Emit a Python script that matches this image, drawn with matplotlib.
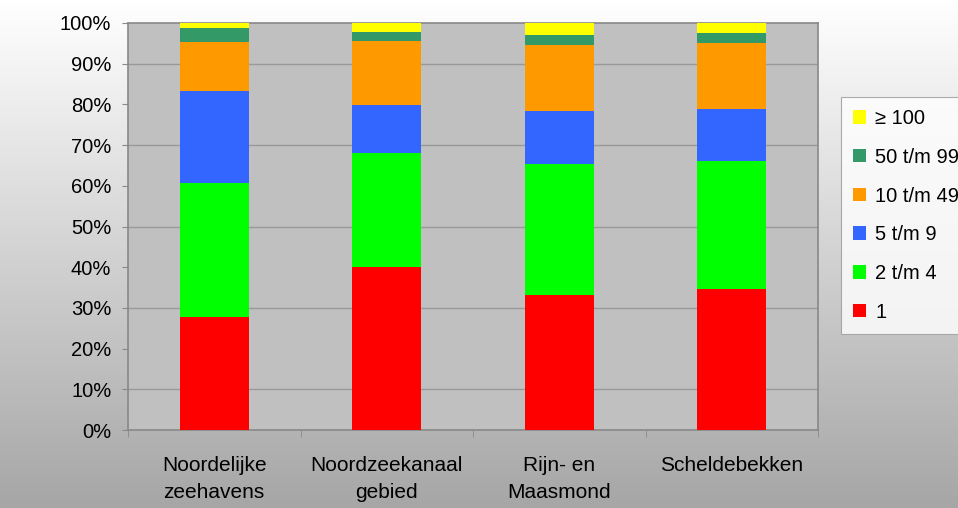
import numpy as np
import matplotlib
matplotlib.use("Agg")
import matplotlib.pyplot as plt
from matplotlib.colors import LinearSegmentedColormap

plt.rcParams['font.family'] = ['Liberation Sans', 'DejaVu Sans']

categories = ["Noordelijke\nzeehavens", "Noordzeekanaal\ngebied", "Rijn- en\nMaasmond", "Scheldebekken"]
series_names = ["1", "2 t/m 4", "5 t/m 9", "10 t/m 49", "50 t/m 99", "\u2265 100"]
s1 = [27.8, 40.0, 33.2, 34.6]
s2_4 = [32.9, 28.1, 32.2, 31.5]
s5_9 = [22.6, 11.8, 13.0, 12.8]
s10_49 = [12.0, 15.8, 16.3, 16.3]
s50_99 = [3.4, 2.1, 2.4, 2.3]
s100 = [1.3, 2.2, 2.9, 2.5]
series = [s1, s2_4, s5_9, s10_49, s50_99, s100]
colors = ["#ff0000", "#00ff00", "#3366ff", "#ff9900", "#339966", "#ffff00"]
yticks = [0, 10, 20, 30, 40, 50, 60, 70, 80, 90, 100]
ytick_labels = [f"{v}%" for v in yticks]

fig = plt.figure(figsize=(9.58, 5.08), dpi=100)

# gradient background
bg = fig.add_axes([0, 0, 1, 1], zorder=-10)
grad = np.linspace(1.0, 0.0, 256).reshape(-1, 1)
cmap = LinearSegmentedColormap.from_list("bg", ["#a6a6a6", "#ffffff"])
bg.imshow(grad, aspect='auto', cmap=cmap, extent=[0, 1, 0, 1], origin='upper', vmin=0, vmax=1)
bg.set_axis_off()

ax = fig.add_axes([128/958, 1-430/508, (818-128)/958, (430-23)/508])
ax.set_facecolor("#c0c0c0")
x = np.arange(len(categories))
bottom = np.zeros(len(categories))
handles = []
for vals, name, c in zip(series, series_names, colors):
    h = ax.bar(x, vals, width=0.4, bottom=bottom, color=c, label=name, zorder=3)
    handles.append(h)
    bottom = bottom + np.array(vals)

for g in [10, 30, 50, 70, 90]:
    ax.axhline(g, color="#999999", lw=1, zorder=1)

ax.set_xlim(-0.5, 3.5)
ax.set_ylim(0, 100)
ax.set_yticks(yticks)
ax.set_yticklabels(ytick_labels, fontsize=14.5)
ax.set_xticks(x)
ax.set_xticklabels(categories, fontsize=15, linespacing=1.5)
ax.tick_params(axis='x', length=0, pad=19)
ax.set_xticks([-0.5, 0.5, 1.5, 2.5, 3.5], minor=True)
ax.tick_params(axis='x', which='minor', length=5, color="#888888", direction='out')
ax.tick_params(axis='y', length=4, color="#888888", direction='out', pad=8)
for sp in ax.spines.values():
    sp.set_color("#888888")
    sp.set_linewidth(1.2)

leg = fig.legend(handles[::-1], series_names[::-1], loc='upper left',
                 bbox_to_anchor=(841/958, 1-97/508), fontsize=14.5,
                 frameon=True, fancybox=False, edgecolor="#999999",
                 handlelength=0.65, handleheight=0.65, handletextpad=0.45,
                 labelspacing=0.98, borderpad=0.6, borderaxespad=0)
leg.get_frame().set_linewidth(0.8)

fig.savefig("out.png", dpi=100)
